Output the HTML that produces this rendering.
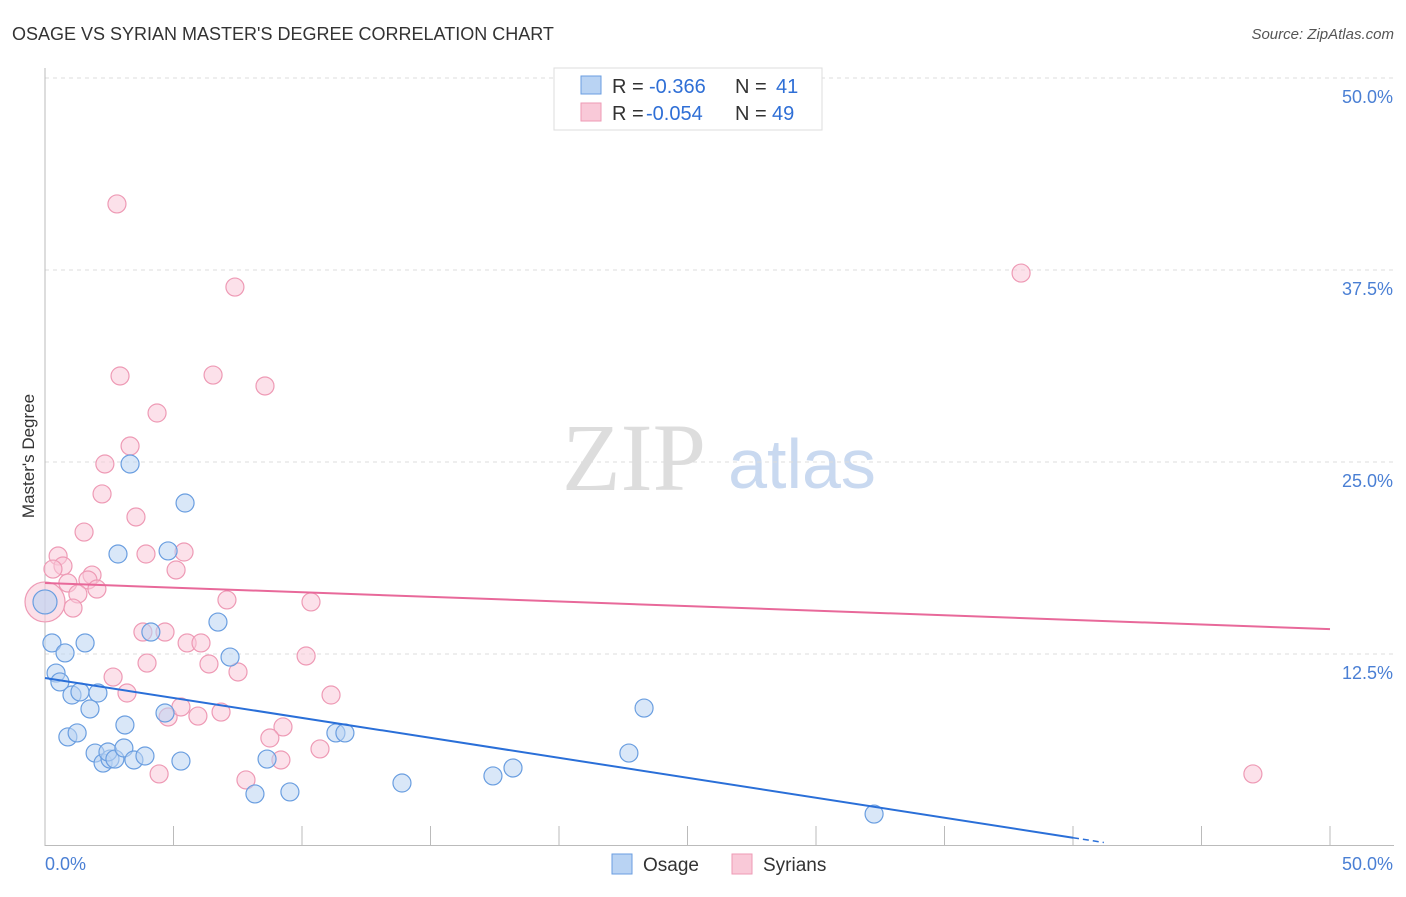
<!DOCTYPE html>
<html><head><meta charset="utf-8"><style>
body{margin:0;background:#fff;font-family:"Liberation Sans",sans-serif}
</style></head><body>
<svg id="c" width="1406" height="892" xmlns="http://www.w3.org/2000/svg" font-family="Liberation Sans, sans-serif">
<text x="12" y="40" font-size="18" fill="#333">OSAGE VS SYRIAN MASTER'S DEGREE CORRELATION CHART</text>
<text x="1394" y="39" font-size="15" fill="#555" font-style="italic" text-anchor="end">Source: ZipAtlas.com</text>
<g><text x="634" y="490" font-size="96" fill="#ddd" style="font-family:'Liberation Serif',serif" text-anchor="middle">ZIP</text><text x="802" y="488" font-size="70" fill="#c9d9f0" text-anchor="middle">atlas</text></g>
<g id="grid"></g><g id="axes"></g><g id="marks"></g>
<text transform="translate(34,456) rotate(-90)" font-size="17" fill="#333" text-anchor="middle">Master's Degree</text>
<g>
<rect x="554" y="68" width="268" height="62" fill="#fff" stroke="#ddd"/>
<rect x="581" y="76" width="20" height="18" fill="#b9d3f3" stroke="#6a9ee0"/>
<rect x="581" y="103" width="20" height="18" fill="#f9c9d8" stroke="#ee9ab5"/>
<text x="612" y="93" font-size="20" fill="#333">R =</text><text x="649" y="93" font-size="20" fill="#2f6fd6">-0.366</text>
<text x="735" y="93" font-size="20" fill="#333">N =</text><text x="776" y="93" font-size="20" fill="#2f6fd6">41</text>
<text x="612" y="120" font-size="20" fill="#333">R =</text><text x="646" y="120" font-size="20" fill="#2f6fd6">-0.054</text>
<text x="735" y="120" font-size="20" fill="#333">N =</text><text x="772" y="120" font-size="20" fill="#2f6fd6">49</text>
</g>
<g>
<rect x="612" y="854" width="20" height="20" fill="#b9d3f3" stroke="#6a9ee0"/><text x="643" y="871" font-size="19" fill="#333">Osage</text>
<rect x="732" y="854" width="20" height="20" fill="#f9c9d8" stroke="#ee9ab5"/><text x="763" y="871" font-size="19" fill="#333">Syrians</text>
</g>
</svg>
<script>
const yTicks=[12.5,25,37.5,50];
const yTickLabels=["12.5%","25.0%","37.5%","50.0%"];
const osageX=[3.31,5.45,2.84,4.79,4.12,6.73,7.20,0.27,1.56,0.78,0.43,0.58,1.05,1.36,2.06,1.75,4.67,3.11,0.89,1.25,1.95,2.26,2.53,2.45,2.72,3.07,3.46,3.89,5.29,8.64,8.17,9.53,11.32,11.67,13.89,17.43,18.21,22.72,23.31,32.26,0];
const osageY=[24.87,22.33,19.01,19.21,13.93,14.58,12.30,13.22,13.22,12.57,11.26,10.68,9.83,10.03,9.96,8.92,8.66,7.88,7.10,7.36,6.05,5.40,5.66,6.12,5.66,6.38,5.60,5.86,5.53,5.66,3.39,3.52,7.36,7.36,4.10,4.56,5.08,6.05,8.98,2.08,15.89];
const syrX=[2.80,7.39,37.98,2.92,6.54,8.56,4.36,3.31,2.33,2.22,3.54,1.52,0.51,0.70,0.31,3.93,5.41,5.10,1.83,1.67,0.89,2.02,1.28,1.09,7.08,10.35,3.81,4.67,5.53,6.07,3.97,6.38,7.51,10.16,2.65,3.19,11.13,4.79,5.29,5.95,6.85,9.26,8.75,10.70,9.18,4.44,7.82,47.0,0];
const syrY=[41.80,36.39,37.30,30.60,30.66,29.95,28.19,26.04,24.87,22.92,21.42,20.44,18.88,18.23,18.03,19.01,19.14,17.97,17.64,17.32,17.12,16.73,16.41,15.49,16.02,15.89,13.93,13.93,13.22,13.22,11.91,11.85,11.33,12.37,11.00,9.96,9.83,8.40,9.05,8.46,8.72,7.75,7.03,6.32,5.60,4.69,4.30,4.69,15.89];
const osageTrend=[10.94,-0.26];
const syrTrend=[17.12,-0.06];
const X=v=>45+v*25.7, Y=v=>846-v*15.36;
const NS="http://www.w3.org/2000/svg";
function mk(t,a,p){const e=document.createElementNS(NS,t);for(const k in a)e.setAttribute(k,a[k]);document.getElementById(p).appendChild(e);return e;}
yTicks.forEach((t,i)=>{
 const g=mk('line',{x1:45,x2:1394,y1:Y(t),y2:Y(t),stroke:'#ddd','stroke-dasharray':'4,4'},'grid');
 
 
 const l=mk('text',{x:1393,y:Y(t)+25,'font-size':18,fill:'#4a7fd4','text-anchor':'end'},'axes');
 l.textContent=yTickLabels[i];
 
 
});
mk('line',{x1:45,x2:45,y1:68,y2:846,stroke:'#bbb'},'axes');
mk('line',{x1:45,x2:1394,y1:845.5,y2:845.5,stroke:'#bbb'},'axes');
for(let i=0;i<=10;i++){const t=mk('line',{x1:X(i*5),x2:X(i*5),y1:826,y2:846,stroke:'#bbb'},'axes');
 
 }
const x0=mk('text',{x:45,y:870,'font-size':18,fill:'#4a7fd4'},'axes');x0.textContent='0.0%';


const x1=mk('text',{x:1393,y:870,'font-size':18,fill:'#4a7fd4','text-anchor':'end'},'axes');x1.textContent='50.0%';


function pts(xs,ys,fill,stroke,name){xs.forEach((v,i)=>{const big=(v===0);
 const c=mk('circle',{cx:X(v),cy:Y(ys[i]),r:big?(name==='syrian-point'?20:12):9,fill:fill,'fill-opacity':big?0.6:0.55,stroke:stroke,'stroke-width':1.2},'marks');
 
 });}
pts(syrX,syrY,'#f9c9d8','#ee9ab5','syrian-point');
pts(osageX,osageY,'#b9d3f3','#6a9ee0','osage-point');
const xEnd=40;
const ol=mk('line',{x1:X(0),y1:Y(osageTrend[0]),x2:X(xEnd),y2:Y(osageTrend[0]+osageTrend[1]*xEnd),stroke:'#2a6fd8','stroke-width':2},'marks');


const od=mk('line',{x1:X(xEnd),y1:Y(osageTrend[0]+osageTrend[1]*xEnd),x2:X(41.2),y2:Y(osageTrend[0]+osageTrend[1]*41.2),stroke:'#2a6fd8','stroke-width':1.5,'stroke-dasharray':'6,4'},'marks');


const sl=mk('line',{x1:X(0),y1:Y(syrTrend[0]),x2:X(50),y2:Y(syrTrend[0]+syrTrend[1]*50),stroke:'#e8699a','stroke-width':2},'marks');


</script>
</body></html>
